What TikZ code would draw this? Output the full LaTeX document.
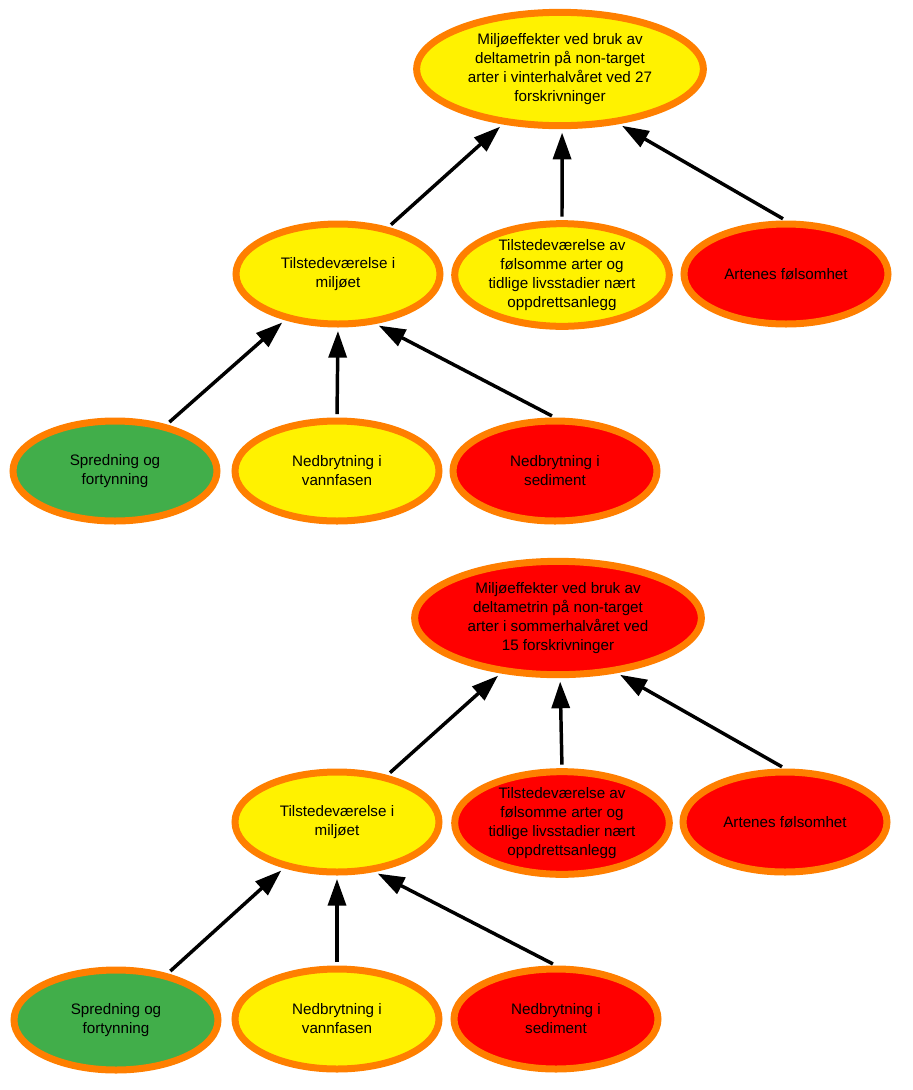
\documentclass[tikz,border=0pt]{standalone}
\usepackage{fontspec}
\setmainfont{Liberation Sans}
\usepackage{tikz}
\usetikzlibrary{arrows.meta,shapes.geometric}
\definecolor{riskgreen}{RGB}{65,174,74}
\definecolor{riskyellow}{RGB}{255,242,0}
\definecolor{riskred}{RGB}{255,0,0}
\definecolor{riskorange}{RGB}{255,127,0}
\tikzset{
  risk vertex/.style={ellipse,draw=riskorange,line width=5.25pt,
    minimum width=153pt,minimum height=75pt,inner sep=0pt,align=center,
    font=\fontsize{11.4}{14.25}\selectfont},
  risk low/.style={risk vertex,fill=riskgreen},
  risk medium/.style={risk vertex,fill=riskyellow},
  risk high/.style={risk vertex,fill=riskred},
  wide vertex/.style={minimum width=215pt,minimum height=85pt},
  tall vertex/.style={minimum width=161pt,minimum height=77pt},
  risk edge/.style={-{Triangle[length=20pt,width=13.5pt]},line width=2.6pt,
    shorten <=2.6pt,shorten >=2.6pt}
}

\begin{document}
\begin{tikzpicture}[x=0.75pt,y=-0.75pt]
    \useasboundingbox (0,0) rectangle (913,1090);
    % vinterhalvaaret
    \node[risk medium,wide vertex] (vintereffekt) at (560,69)
      {Miljøeffekter ved bruk av\\deltametrin på non-target\\arter i vinterhalvåret ved 27\\forskrivninger};
    \node[risk medium] (vintertilstede) at (338,274) {Tilstedeværelse i\\miljøet};
    \node[risk medium,tall vertex] (vinterfolsom) at (562,275)
      {Tilstedeværelse av\\følsomme arter og\\tidlige livsstadier nært\\oppdrettsanlegg};
    \node[risk high] (vinterarter) at (786,274) {Artenes følsomhet};
    \node[risk low] (vinterspredning) at (115,471) {Spredning og\\fortynning};
    \node[risk medium] (vintervann) at (337,471) {Nedbrytning i\\vannfasen};
    \node[risk high] (vintersediment) at (555,471) {Nedbrytning i\\sediment};
    \draw[risk edge] (vintertilstede.43) -- (vintereffekt.-136);
    \draw[risk edge] (vinterfolsom.north) -- (vintereffekt.-88);
    \draw[risk edge] (vinterarter.north) -- (vintereffekt.-43);
    \draw[risk edge] (vinterspredning.42) -- (vintertilstede.-139);
    \draw[risk edge] (vintervann.north) -- (vintertilstede.south);
    \draw[risk edge] (vintersediment.north) -- (vintertilstede.-53);
    % sommerhalvaaret
    \node[risk high,wide vertex] (sommereffekt) at (558,618)
      {Miljøeffekter ved bruk av\\deltametrin på non-target\\arter i sommerhalvåret ved\\15 forskrivninger};
    \node[risk medium] (sommertilstede) at (337,822) {Tilstedeværelse i\\miljøet};
    \node[risk high,tall vertex] (sommerfolsom) at (562,823)
      {Tilstedeværelse av\\følsomme arter og\\tidlige livsstadier nært\\oppdrettsanlegg};
    \node[risk high] (sommerarter) at (785,822) {Artenes følsomhet};
    \node[risk low] (sommerspredning) at (116,1020) {Spredning og\\fortynning};
    \node[risk medium] (sommervann) at (337,1019) {Nedbrytning i\\vannfasen};
    \node[risk high] (sommersediment) at (556,1019) {Nedbrytning i\\sediment};
    \draw[risk edge] (sommertilstede.43) -- (sommereffekt.-136);
    \draw[risk edge] (sommerfolsom.north) -- (sommereffekt.-88);
    \draw[risk edge] (sommerarter.north) -- (sommereffekt.-43);
    \draw[risk edge] (sommerspredning.42) -- (sommertilstede.-139);
    \draw[risk edge] (sommervann.north) -- (sommertilstede.south);
    \draw[risk edge] (sommersediment.north) -- (sommertilstede.-53);
  \end{tikzpicture}
\end{document}
